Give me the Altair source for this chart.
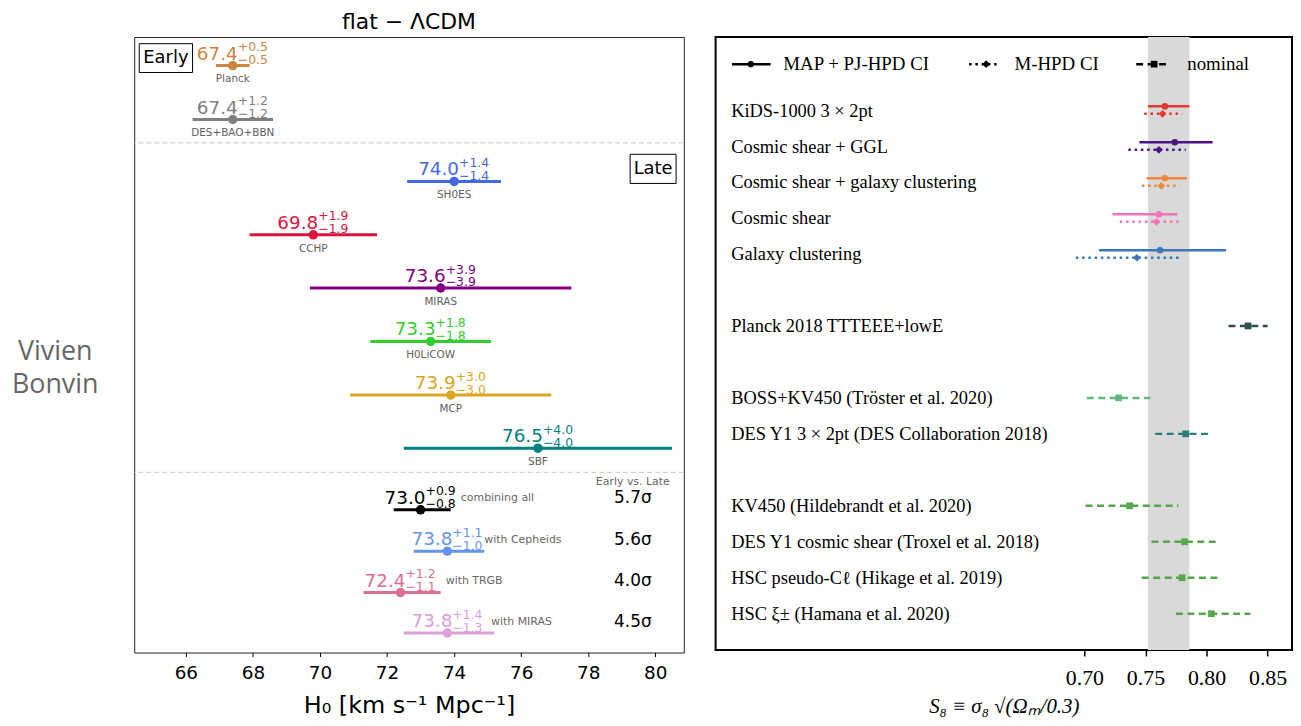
import altair as alt
import pandas as pd

# ---------------- data: left panel (H0, flat LCDM) ----------------
h0_names = ["Planck", "DES+BAO+BBN", "SH0ES", "CCHP", "MIRAS", "H0LiCOW", "MCP", "SBF",
            "combining all", "with Cepheids", "with TRGB", "with MIRAS"]
h0_values = [67.4, 67.4, 74.0, 69.8, 73.6, 73.3, 73.9, 76.5, 73.0, 73.8, 72.4, 73.8]
h0_err_up = [0.5, 1.2, 1.4, 1.9, 3.9, 1.8, 3.0, 4.0, 0.9, 1.1, 1.2, 1.4]
h0_err_dn = [0.5, 1.2, 1.4, 1.9, 3.9, 1.8, 3.0, 4.0, 0.8, 1.0, 1.1, 1.3]
h0_colors = ["#cd853f", "#808080", "#4169e1", "#dc143c", "#800080", "#32cd32",
             "#daa520", "#008080", "#000000", "#6495ed", "#db7093", "#dda0dd"]
h0_group = ["early", "early", "late", "late", "late", "late", "late", "late",
            "comb", "comb", "comb", "comb"]
tension_labels = ["5.7σ", "5.6σ", "4.0σ", "4.5σ"]
h0_ticks = [66, 68, 70, 72, 74, 76, 78, 80]

# ---------------- data: right panel (S8) ----------------
s8_labels = ["KiDS-1000 3 × 2pt", "Cosmic shear + GGL", "Cosmic shear + galaxy clustering",
             "Cosmic shear", "Galaxy clustering", "Planck 2018 TTTEEE+lowE",
             "BOSS+KV450 (Tröster et al. 2020)", "DES Y1 3 × 2pt (DES Collaboration 2018)",
             "KV450 (Hildebrandt et al. 2020)", "DES Y1 cosmic shear (Troxel et al. 2018)",
             "HSC pseudo-Cℓ (Hikage et al. 2019)", "HSC ξ± (Hamana et al. 2020)"]
map_values = [0.766, 0.774, 0.766, 0.761, 0.762]
map_lo = [0.752, 0.745, 0.751, 0.723, 0.712]
map_hi = [0.786, 0.805, 0.784, 0.776, 0.816]
mhpd_values = [0.764, 0.761, 0.763, 0.759, 0.743]
mhpd_lo = [0.749, 0.736, 0.747, 0.729, 0.693]
mhpd_hi = [0.780, 0.783, 0.778, 0.780, 0.779]
main_colors = ["#e6372f", "#4a1486", "#f0883e", "#f075b6", "#3a78b8"]
nominal_values = [0.834, 0.728, 0.783, 0.737, 0.782, 0.780, 0.804]
nominal_lo = [0.818, 0.702, 0.758, 0.701, 0.755, 0.747, 0.775]
nominal_hi = [0.850, 0.754, 0.804, 0.777, 0.809, 0.810, 0.836]
nominal_colors = ["#2f4f4f", "#62b77a", "#2a7f7d", "#55a847", "#55a847", "#55a847", "#55a847"]
s8_band = [0.752, 0.786]
s8_ticks = [0.70, 0.75, 0.80, 0.85]
legend_names = ["MAP + PJ-HPD CI", "M-HPD CI", "nominal"]

# ---------------- layout ----------------
LW, LH = 553, 619.3
RW, RH = 580, 616.7
VW = 94
left_row_y = [28.7, 83.0, 145.3, 199.0, 252.5, 306.3, 360.3, 413.7, 475.7, 517.3, 559.0, 599.7]
left_sep_y = [106.5, 438.0]
side_label_x = [74.2, 74.9, 73.75, 75.1]
tension_x = 79.33
boxes = {"label": ["Early", "Late"], "x": [64.61, 79.25], "x2": [66.2, 80.62],
         "y": [6.7, 118.0], "y2": [35.7, 147.3]}
right_slots = [0, 1, 2, 3, 4, 6, 8, 9, 11, 12, 13, 14]
slot_y = [73.5 + 36.2 * s for s in right_slots]
label_x = 0.4108
legend_y = 27.3
legend_line = [(0.4115, 0.443), (0.6056, 0.6304), (0.7424, 0.770)]
legend_mark = [0.4268, 0.6195, 0.7571]
legend_text_x = [0.4534, 0.6427, 0.7842]

SANS = "DejaVu Sans"
SERIF = "Liberation Serif"

# ---------------- left panel ----------------
df_l = pd.DataFrame({
    "name": h0_names, "val": h0_values,
    "lo": [v - d for v, d in zip(h0_values, h0_err_dn)],
    "hi": [v + u for v, u in zip(h0_values, h0_err_up)],
    "val_txt": [f"{v:.1f}" for v in h0_values],
    "up_txt": [f"+{u:.1f}" for u in h0_err_up],
    "dn_txt": [f"−{d:.1f}" for d in h0_err_dn],
    "color": h0_colors, "group": h0_group, "y": left_row_y,
})
df_top = df_l[df_l["group"] != "comb"]
df_comb = df_l[df_l["group"] == "comb"].copy()
df_comb["side_x"] = side_label_x
df_comb["tension"] = tension_labels
df_comb["tx"] = tension_x
df_sep = pd.DataFrame({"y": left_sep_y})
df_box = pd.DataFrame(boxes)
df_box["tx"] = (df_box["x"] + df_box["x2"]) / 2
df_box["ty"] = (df_box["y"] + df_box["y2"]) / 2
df_evl = pd.DataFrame({"x": [tension_x], "y": [447.3], "t": ["Early vs. Late"]})

xs_l = alt.Scale(domain=[64.46, 80.85], nice=False, zero=False)
ys_l = alt.Scale(domain=[0, LH], reverse=True, nice=False, zero=False)
ax_l = alt.Axis(values=h0_ticks, format="d", labelFont=SANS, labelFontSize=18.5,
                labelColor="black", tickColor="black", tickSize=4, labelPadding=7,
                domain=False, grid=False, title="H₀ [km s⁻¹ Mpc⁻¹]", titleFont=SANS,
                titleFontSize=24, titleFontWeight="normal", titleColor="black",
                titlePadding=12)


def XL(f):
    return alt.X(f, type="quantitative", scale=xs_l, axis=ax_l)


def YL(f):
    return alt.Y(f, type="quantitative", scale=ys_l, axis=None)


C = alt.Color("color:N", scale=None)

sep = alt.Chart(df_sep).mark_rule(strokeDash=[5, 3], color="#c8c8c8", strokeWidth=1).encode(y=YL("y"))
rules = alt.Chart(df_l).mark_rule(strokeWidth=3).encode(x=XL("lo"), x2="hi", y=YL("y"), color=C)
dots = alt.Chart(df_l).mark_circle(size=90, opacity=1).encode(x=XL("val"), y=YL("y"), color=C)
main_t = alt.Chart(df_l).mark_text(align="right", baseline="middle", font=SANS, fontSize=18.5,
                                   dx=5, dy=-12).encode(x=XL("val"), y=YL("y"), text="val_txt:N", color=C)
sup_t = alt.Chart(df_l).mark_text(align="left", baseline="middle", font=SANS, fontSize=12.5,
                                  dx=5, dy=-18.5).encode(x=XL("val"), y=YL("y"), text="up_txt:N", color=C)
sub_t = alt.Chart(df_l).mark_text(align="left", baseline="middle", font=SANS, fontSize=12.5,
                                  dx=5, dy=-5.5).encode(x=XL("val"), y=YL("y"), text="dn_txt:N", color=C)
name_t = alt.Chart(df_top).mark_text(baseline="middle", font=SANS, fontSize=10.5, color="#606060",
                                     dy=14).encode(x=XL("val"), y=YL("y"), text="name:N")
side_t = alt.Chart(df_comb).mark_text(align="left", baseline="middle", font=SANS, fontSize=11,
                                      color="#666666", dy=-11.5).encode(x=XL("side_x"), y=YL("y"), text="name:N")
tens_t = alt.Chart(df_comb).mark_text(baseline="middle", font=SANS, fontSize=17, color="black",
                                      dy=-11.5).encode(x=XL("tx"), y=YL("y"), text="tension:N")
evl_t = alt.Chart(df_evl).mark_text(baseline="middle", font=SANS, fontSize=11,
                                    color="#666666").encode(x=XL("x"), y=YL("y"), text="t:N")
box_r = alt.Chart(df_box).mark_rect(fill="white", stroke="black", strokeWidth=1).encode(
    x=XL("x"), x2="x2", y=YL("y"), y2="y2")
box_t = alt.Chart(df_box).mark_text(baseline="middle", font=SANS, fontSize=18, color="black").encode(
    x=XL("tx"), y=YL("ty"), text="label:N")

left = alt.layer(sep, rules, dots, main_t, sup_t, sub_t, name_t, side_t, tens_t, evl_t, box_r, box_t).properties(
    width=LW, height=LH,
    title=alt.Title("flat − ΛCDM", font=SANS, fontSize=22, fontWeight="normal", color="black", offset=3),
    view=alt.ViewBackground(stroke="#222222", strokeWidth=1),
)

# ---------------- right panel ----------------
df_map = pd.DataFrame({"val": map_values, "lo": map_lo, "hi": map_hi, "color": main_colors,
                       "y": [slot_y[i] - 3.8 for i in range(5)]})
df_mhpd = pd.DataFrame({"val": mhpd_values, "lo": mhpd_lo, "hi": mhpd_hi, "color": main_colors,
                        "y": [slot_y[i] + 3.8 for i in range(5)]})
df_nom = pd.DataFrame({"val": nominal_values, "lo": nominal_lo, "hi": nominal_hi,
                       "color": nominal_colors, "y": slot_y[5:]})
df_lab = pd.DataFrame({"label": s8_labels, "x": label_x, "y": [y + 0.5 for y in slot_y]})
df_band = pd.DataFrame({"lo": [s8_band[0]], "hi": [s8_band[1]]})
df_leg = pd.DataFrame({"name": legend_names,
                       "lo": [a for a, b in legend_line], "hi": [b for a, b in legend_line],
                       "m": legend_mark, "tx": legend_text_x, "y": legend_y})

xs_r = alt.Scale(domain=[0.398, 0.8700], nice=False, zero=False)
ys_r = alt.Scale(domain=[0, RH], reverse=True, nice=False, zero=False)
ax_r = alt.Axis(values=s8_ticks, format=".2f", labelFont=SERIF, labelFontSize=22,
                labelColor="black", tickColor="black", tickSize=6, tickWidth=1.5, labelPadding=12,
                domain=False, grid=False, title="S₈ ≡ σ₈ √(Ωₘ/0.3)", titleFont=SERIF,
                titleFontSize=21, titleFontWeight="normal", titleFontStyle="italic",
                titleColor="black", titlePadding=7)


def XR(f):
    return alt.X(f, type="quantitative", scale=xs_r, axis=ax_r)


def YR(f):
    return alt.Y(f, type="quantitative", scale=ys_r, axis=None)


band = alt.Chart(df_band).mark_rect(color="#d9d9d9").encode(x=XR("lo"), x2="hi")
map_r = alt.Chart(df_map).mark_rule(strokeWidth=2.5).encode(x=XR("lo"), x2="hi", y=YR("y"), color=C)
map_p = alt.Chart(df_map).mark_circle(size=45, opacity=1).encode(x=XR("val"), y=YR("y"), color=C)
mh_r = alt.Chart(df_mhpd).mark_rule(strokeWidth=2.5, strokeDash=[2.5, 3.8], strokeCap="butt").encode(
    x=XR("lo"), x2="hi", y=YR("y"), color=C)
mh_p = alt.Chart(df_mhpd).mark_point(shape="diamond", filled=True, size=60, opacity=1).encode(
    x=XR("val"), y=YR("y"), color=C)
nom_r = alt.Chart(df_nom).mark_rule(strokeWidth=2.5, strokeDash=[7, 4.5], strokeCap="butt").encode(
    x=XR("lo"), x2="hi", y=YR("y"), color=C)
nom_p = alt.Chart(df_nom).mark_square(size=45, opacity=1).encode(x=XR("val"), y=YR("y"), color=C)
labs = alt.Chart(df_lab).mark_text(align="left", baseline="middle", font=SERIF, fontSize=18.5,
                                   color="black").encode(x=XR("x"), y=YR("y"), text="label:N")

leg0 = df_leg.iloc[[0]]
leg1 = df_leg.iloc[[1]]
leg2 = df_leg.iloc[[2]]
lg_r0 = alt.Chart(leg0).mark_rule(strokeWidth=2.5, color="black").encode(x=XR("lo"), x2="hi", y=YR("y"))
lg_p0 = alt.Chart(leg0).mark_circle(size=40, opacity=1, color="black").encode(x=XR("m"), y=YR("y"))
lg_r1 = alt.Chart(leg1).mark_rule(strokeWidth=2.5, strokeDash=[2.5, 3.8], strokeCap="butt",
                                  color="black").encode(x=XR("lo"), x2="hi", y=YR("y"))
lg_p1 = alt.Chart(leg1).mark_point(shape="diamond", filled=True, size=60, opacity=1,
                                   color="black").encode(x=XR("m"), y=YR("y"))
lg_r2 = alt.Chart(leg2).mark_rule(strokeWidth=2.5, strokeDash=[7, 4.5], strokeCap="butt",
                                  color="black").encode(x=XR("lo"), x2="hi", y=YR("y"))
lg_p2 = alt.Chart(leg2).mark_square(size=45, opacity=1, color="black").encode(x=XR("m"), y=YR("y"))
lg_t = alt.Chart(df_leg).mark_text(align="left", baseline="middle", font=SERIF, fontSize=19,
                                   color="black").encode(x=XR("tx"), y=YR("y"), text="name:N")

right = alt.layer(band, map_r, mh_r, nom_r, map_p, mh_p, nom_p, labs,
                  lg_r0, lg_p0, lg_r1, lg_p1, lg_r2, lg_p2, lg_t).properties(
    width=RW, height=RH,
    view=alt.ViewBackground(stroke="black", strokeWidth=2),
)

# ---------------- side name ----------------
df_viv = pd.DataFrame({"t": ["Vivien", "Bonvin"], "x": [46.5, 46.5], "y": [317.0, 350.5]})
viv = alt.Chart(df_viv).mark_text(font="Open Sans", fontSize=27, color="#666666", baseline="middle").encode(
    x=alt.X("x:Q", scale=alt.Scale(domain=[0, VW], nice=False, zero=False), axis=None),
    y=alt.Y("y:Q", scale=alt.Scale(domain=[0, LH], reverse=True, nice=False, zero=False), axis=None),
    text="t:N",
).properties(width=VW, height=LH, view=alt.ViewBackground(stroke="transparent"))

chart = alt.hconcat(viv, left, right, spacing=32, bounds="flush").properties(
    padding={"left": 0, "top": 0, "right": 0, "bottom": 0},
    background="white",
).configure_view(stroke="transparent")

chart.save("out.html", embed_options={"renderer": "svg", "actions": False})
